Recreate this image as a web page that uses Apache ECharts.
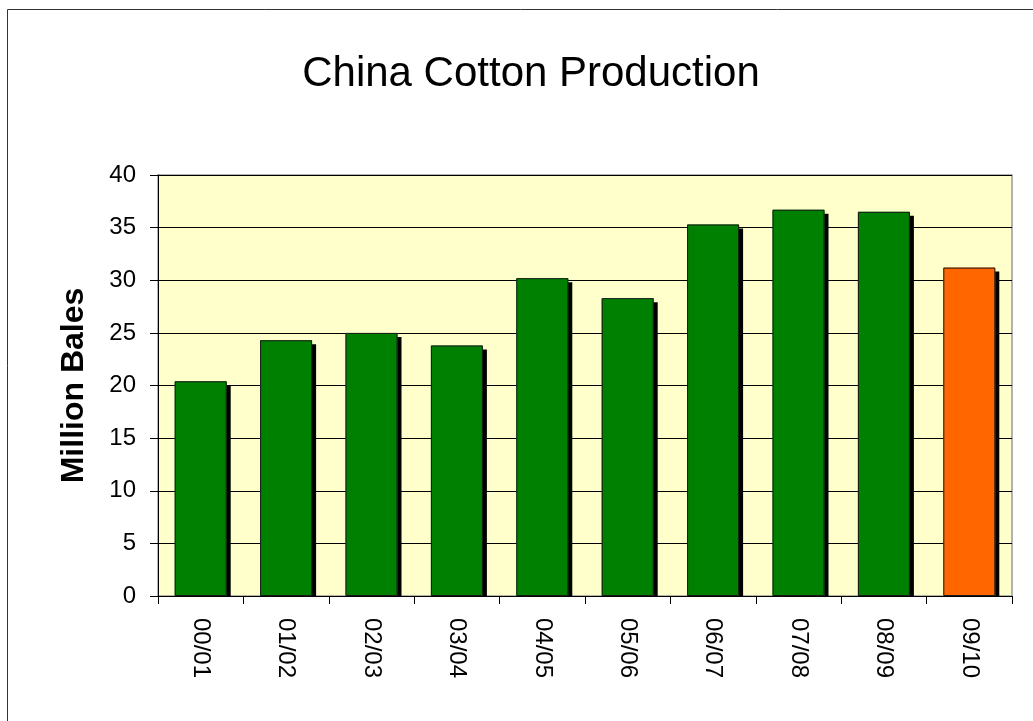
<!DOCTYPE html>
<html>
<head>
<meta charset="utf-8">
<script src="https://cdn.jsdelivr.net/npm/echarts@6/dist/echarts.min.js"></script>
<style>
html,body{margin:0;padding:0;background:#fff;}
#chart{width:1033px;height:721px;}
</style>
</head>
<body>
<div id="chart"></div>
<script>
var categories = ['00/01','01/02','02/03','03/04','04/05','05/06','06/07','07/08','08/09','09/10'];
var production = [20.4, 24.3, 25.0, 23.8, 30.2, 28.3, 35.3, 36.7, 36.5, 31.2];
var isEstimate = [false,false,false,false,false,false,false,false,false,true];
var yTicks = [0,5,10,15,20,25,30,35,40];

var FONT = "'Liberation Sans', Arial, sans-serif";
var chart = echarts.init(document.getElementById('chart'));

var barData = production.map(function(v, i){
  return {
    value: v,
    itemStyle: { color: isEstimate[i] ? '#FF6600' : '#008000' }
  };
});

chart.setOption({
  animation: false,
  backgroundColor: '#ffffff',
  title: {
    text: 'China Cotton Production',
    left: 526,
    top: 48,
    textAlign: 'center',
    textStyle: { fontFamily: FONT, fontSize: 42, fontWeight: 'normal', color: '#000' }
  },
  graphic: [{
    type: 'rect',
    shape: { x: 7.5, y: 9.5, width: 1200, height: 900 },
    style: { fill: 'none', stroke: '#333', lineWidth: 1 },
    silent: true
  }, {
    type: 'rect',
    z: 5,
    shape: { x: 159, y: 597, width: 853, height: 6 },
    style: { fill: '#ffffff' },
    silent: true
  }],
  grid: {
    left: 158, right: 21, top: 175, bottom: 125,
    show: true,
    backgroundColor: '#FFFFCC',
    borderColor: '#999',
    borderWidth: 1.5
  },
  xAxis: {
    type: 'category',
    data: categories,
    z: 10,
    boundaryGap: true,
    axisLine: { lineStyle: { color: '#000', width: 1 } },
    axisTick: { show: true, alignWithLabel: false, length: 8, lineStyle: { color: '#000' } },
    axisLabel: {
      rotate: -90,
      margin: 22,
      fontFamily: FONT,
      fontSize: 24,
      color: '#000'
    }
  },
  yAxis: {
    type: 'value',
    min: yTicks[0],
    max: yTicks[yTicks.length - 1],
    interval: yTicks[1] - yTicks[0],
    name: 'Million Bales',
    nameLocation: 'middle',
    nameRotate: 90,
    nameGap: 68,
    nameTextStyle: { fontFamily: FONT, fontSize: 32, fontWeight: 'bold', color: '#000' },
    axisLine: { show: true, lineStyle: { color: '#000', width: 1 } },
    axisTick: { show: true, length: 8, lineStyle: { color: '#000' } },
    axisLabel: { margin: 22, fontFamily: FONT, fontSize: 24, color: '#000' },
    splitLine: { show: true, lineStyle: { color: '#000', width: 1 } }
  },
  series: [{
    type: 'bar',
    data: barData,
    barWidth: 52,
    z: 2,
    itemStyle: {
      borderWidth: 0,
      shadowColor: '#000',
      shadowBlur: 0,
      shadowOffsetX: 4,
      shadowOffsetY: 4
    }
  }, {
    type: 'bar',
    data: production,
    barWidth: 52,
    barGap: '-100%',
    z: 3,
    silent: true,
    itemStyle: {
      color: 'rgba(0,0,0,0)',
      borderColor: '#1a1a1a',
      borderWidth: 1
    }
  }]
});
</script>
</body>
</html>
